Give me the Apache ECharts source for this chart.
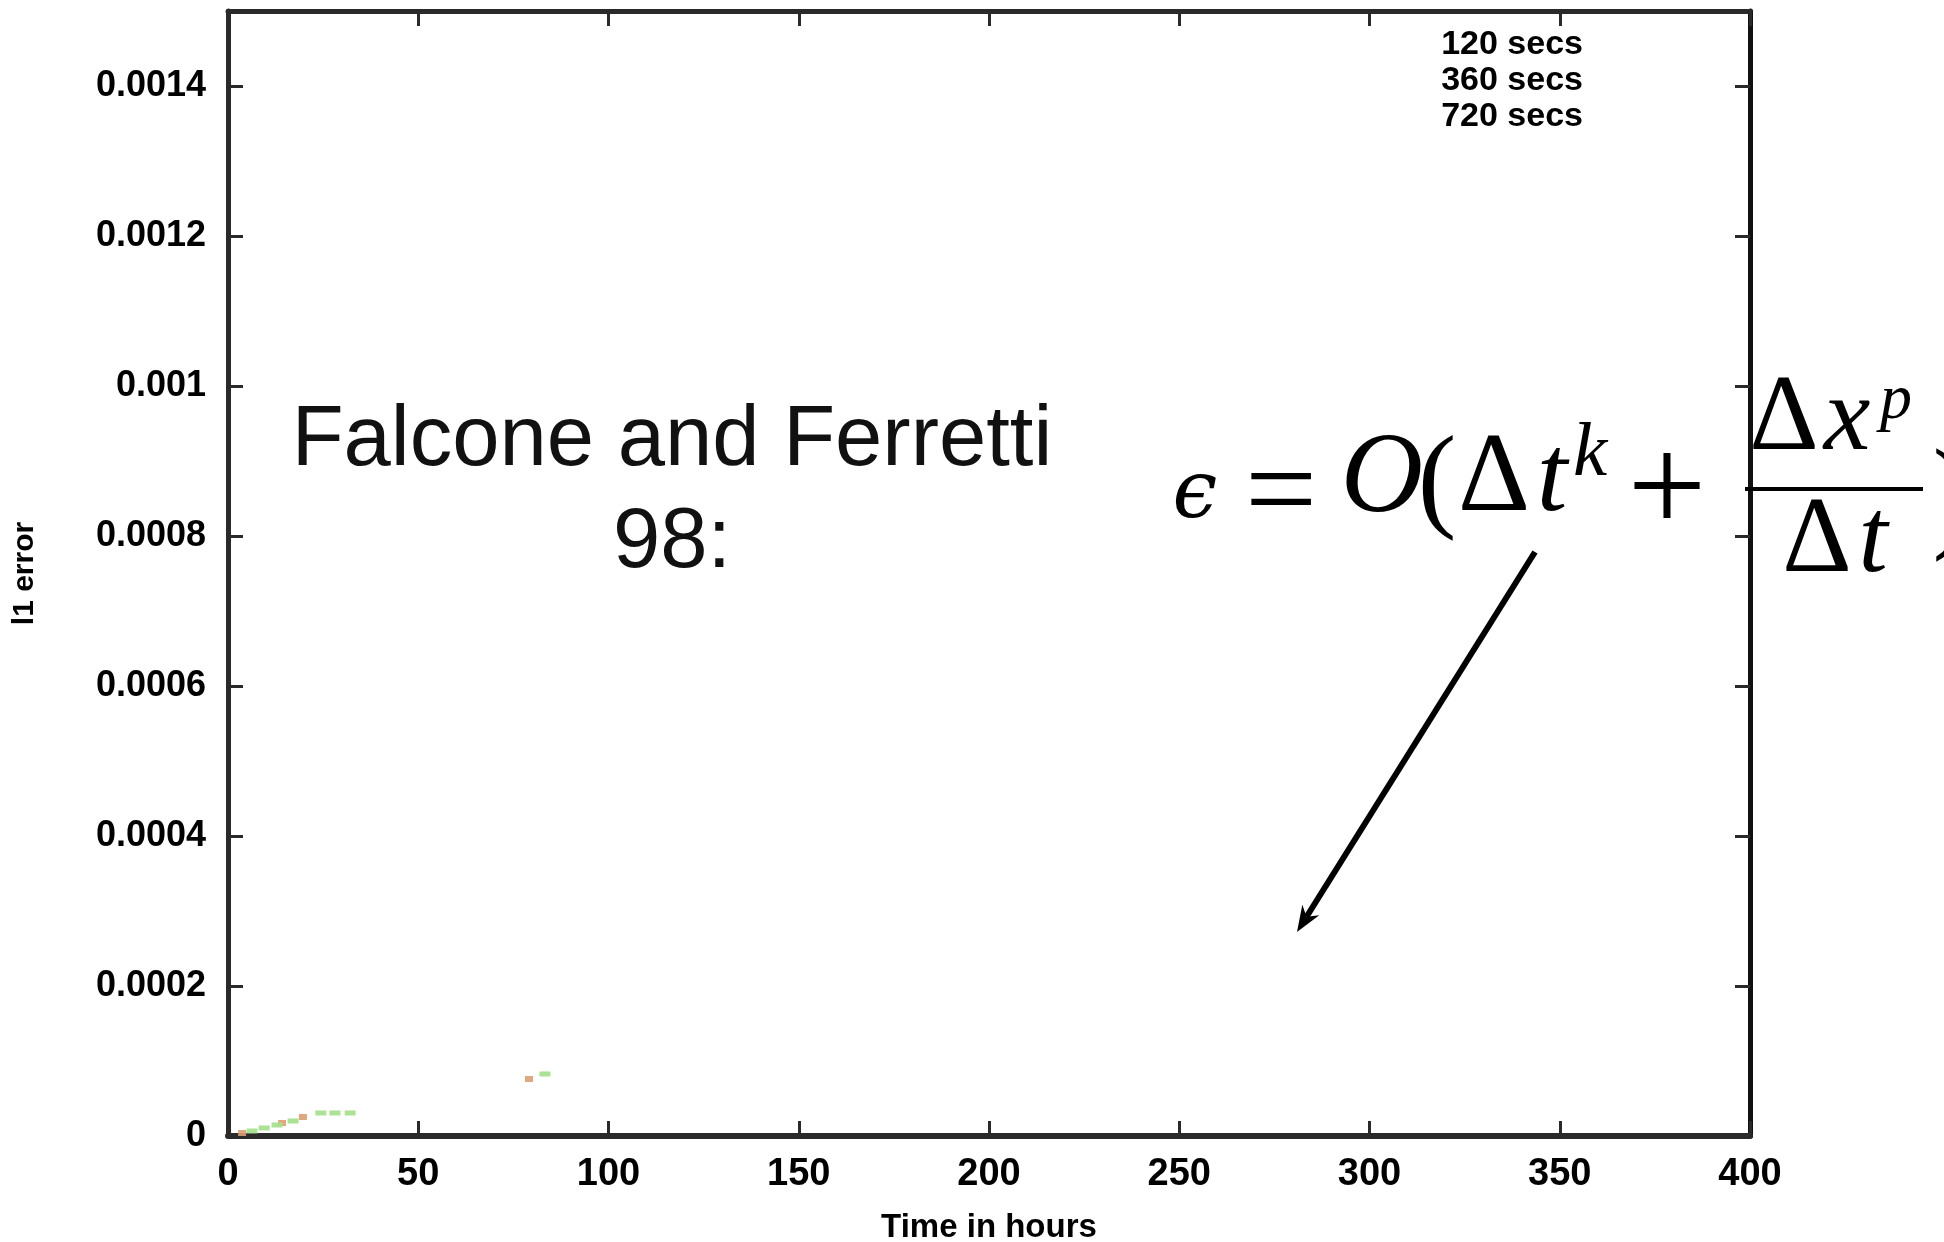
<!DOCTYPE html>
<html><head><meta charset="utf-8">
<script src="https://cdn.jsdelivr.net/npm/echarts@6/dist/echarts.min.js"></script>
<style>html,body{margin:0;padding:0;background:#fff}#c{width:1944px;height:1242px}</style>
</head><body><div id="c"></div>
<script>
// ---- data ----
const seriesNames = ['120 secs', '360 secs', '720 secs'];
const s120 = [[3.7, 0.0000040], [14.2, 0.0000173], [19.7, 0.0000253], [79.1, 0.0000760]];
const s360 = [[6.3, 0.0000067], [9.5, 0.0000107], [12.9, 0.0000147], [17.1, 0.0000200],
              [24.4, 0.0000307], [28.1, 0.0000307], [32.1, 0.0000307], [83.3, 0.0000827]];
const s720 = [];
const xTickLabels = ['0', '50', '100', '150', '200', '250', '300', '350', '400'];
const yTickLabels = ['0', '0.0002', '0.0004', '0.0006', '0.0008', '0.001', '0.0012', '0.0014'];
const xName = 'Time in hours';
const yName = 'l1 error';
const noteText = 'Falcone and Ferretti\n98:';

const chart = echarts.init(document.getElementById('c'), null, {renderer: 'canvas'});
const FS = 'Liberation Sans, Arial, sans-serif';
const SERIF = 'Liberation Serif, Times New Roman, serif';
const axisCol = '#2a2a2a';

function T(text, cx, my, size, extra) {
  return {
    type: 'text', x: cx, y: my, z: 100,
    style: Object.assign({text: text, font: size + 'px ' + SERIF, fill: '#000',
      textAlign: 'center', textVerticalAlign: 'middle'}, extra || {})
  };
}
function TI(text, cx, my, size) {
  return T(text, cx, my, size, {font: 'italic ' + size + 'px ' + SERIF});
}

// arrow geometry (annotation)
const tip = [1297, 932], start = [1535, 552];
const dx = tip[0] - start[0], dy = tip[1] - start[1];
const L = Math.hypot(dx, dy), ux = dx / L, uy = dy / L, px = -uy, py = ux;
const back = 26, half = 10, notch = 18;
const b1 = [tip[0] - ux * back + px * half, tip[1] - uy * back + py * half];
const b2 = [tip[0] - ux * back - px * half, tip[1] - uy * back - py * half];
const nt = [tip[0] - ux * notch, tip[1] - uy * notch];

const option = {
  backgroundColor: '#fff',
  animation: false,
  grid: {left: 228, right: 194, top: 11, bottom: 106, containLabel: false, outerBoundsMode: 'none'},
  legend: {
    data: seriesNames, orient: 'vertical', right: 361, top: 27, padding: 0,
    itemWidth: 0, itemHeight: 0, itemGap: 0, selectedMode: false,
    textStyle: {fontFamily: FS, fontWeight: 'bold', fontSize: 34, color: '#000', lineHeight: 36}
  },
  xAxis: [{
    type: 'value', min: 0, max: 400, interval: 50, position: 'bottom',
    name: xName, nameLocation: 'middle', nameGap: 75,
    nameTextStyle: {fontFamily: FS, fontWeight: 'bold', fontSize: 33, color: '#000'},
    axisLine: {show: true, onZero: false, lineStyle: {color: axisCol, width: 6}},
    axisTick: {show: true, inside: true, length: 15, lineStyle: {color: axisCol, width: 3}},
    axisLabel: {margin: 20, fontFamily: FS, fontWeight: 'bold', fontSize: 38, color: '#000',
      formatter: v => xTickLabels[Math.round(v / 50)] ?? ''},
    splitLine: {show: false}
  }, {
    type: 'value', min: 0, max: 400, interval: 50, position: 'top',
    axisLine: {show: true, onZero: false, lineStyle: {color: axisCol, width: 5}},
    axisTick: {show: true, inside: true, length: 15, lineStyle: {color: axisCol, width: 3}},
    axisLabel: {show: false}, splitLine: {show: false}
  }],
  yAxis: [{
    type: 'value', min: 0, max: 0.0015, interval: 0.0002, position: 'left',
    name: yName, nameLocation: 'middle', nameGap: 188,
    nameTextStyle: {fontFamily: FS, fontWeight: 'bold', fontSize: 30, color: '#000'},
    axisLine: {show: true, onZero: false, lineStyle: {color: axisCol, width: 5}},
    axisTick: {show: true, inside: true, length: 15, lineStyle: {color: axisCol, width: 3}},
    axisLabel: {margin: 22, fontFamily: FS, fontWeight: 'bold', fontSize: 36, color: '#000',
      showMaxLabel: false,
      formatter: v => { const i = Math.round(v / 0.0002); return Math.abs(v - i * 0.0002) < 1e-9 ? (yTickLabels[i] ?? '') : ''; }},
    splitLine: {show: false}
  }, {
    type: 'value', min: 0, max: 0.0015, interval: 0.0002, position: 'right',
    axisLine: {show: true, onZero: false, lineStyle: {color: '#111', width: 5}},
    axisTick: {show: true, inside: true, length: 15, lineStyle: {color: axisCol, width: 3}},
    axisLabel: {show: false}, splitLine: {show: false}
  }],
  series: [
    {name: seriesNames[0], type: 'scatter', data: s120, symbol: 'rect', symbolSize: [8, 6],
     itemStyle: {color: '#dc9e72', opacity: 0.9}},
    {name: seriesNames[1], type: 'scatter', data: s360, symbol: 'rect', symbolSize: [11, 5],
     itemStyle: {color: '#a6e08e', opacity: 0.95}},
    {name: seriesNames[2], type: 'scatter', data: s720, symbol: 'rect', symbolSize: [10, 5],
     itemStyle: {color: '#8aa0e0'}}
  ],
  graphic: [
    {type: 'text', x: 672, y: 493, z: 100,
     style: {text: noteText, font: '85px ' + FS, fill: '#111', textAlign: 'center',
             textVerticalAlign: 'middle', lineHeight: 102}},
    // formula
    T('\u03F5', 1195, 496, 80, {font: 'italic 80px DejaVu Serif, serif'}),
    T('=', 1281, 497, 128),
    TI('O', 1382, 481, 114),
    T('(', 1437, 486, 116),
    T('\u0394', 1494, 481, 112),
    TI('t', 1552, 481, 110),
    TI('k', 1590, 455, 77),
    T('+', 1667, 495, 140),
    {type: 'line', z: 100, shape: {x1: 1745, y1: 489, x2: 1923, y2: 489}, style: {stroke: '#000', lineWidth: 4}},
    T('\u0394', 1784, 421, 108),
    TI('x', 1847, 421, 105),
    TI('p', 1896, 401, 64),
    T('\u0394', 1817, 543, 108),
    TI('t', 1873, 543, 105),
    T(')', 1953, 502, 125),
    // arrow
    {type: 'line', z: 100, shape: {x1: start[0], y1: start[1], x2: nt[0], y2: nt[1]},
     style: {stroke: '#000', lineWidth: 6}},
    {type: 'polygon', z: 100, shape: {points: [tip, b1, nt, b2]}, style: {fill: '#000'}}
  ]
};
chart.setOption(option);
</script>
</body></html>
